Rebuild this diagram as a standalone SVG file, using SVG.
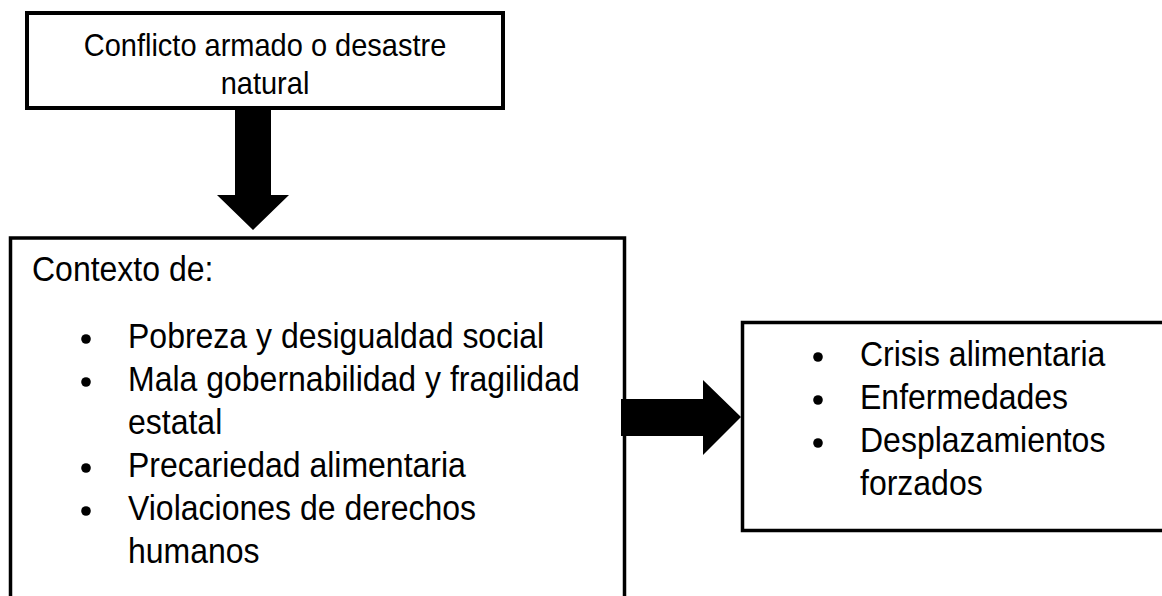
<svg xmlns="http://www.w3.org/2000/svg" width="1162" height="596" viewBox="0 0 1162 596">
<style>
.box{fill:#fff;stroke:#000}
.t{font-family:"Liberation Sans",Arial,sans-serif;fill:#000}
.t1{font-size:29px}
.t2{font-size:32px}
.arrow{fill:#000}
</style>
<rect width="1162" height="596" fill="#fff"/>
<g id="node-top">
<rect class="box" x="27" y="13" width="476" height="95" stroke-width="4"/>
<text class="t t1" transform="translate(265,56) scale(1,1.08)" text-anchor="middle">Conflicto armado o desastre</text>
<text class="t t1" transform="translate(265,94) scale(1,1.08)" text-anchor="middle">natural</text>
</g>
<g id="node-context">
<rect class="box" x="10.5" y="238" width="614" height="380" stroke-width="3.5"/>
<text class="t t2" transform="translate(32,281) scale(1,1.08)">Contexto de:</text>
<g class="arrow">
<circle cx="86" cy="339" r="4.8"/>
<circle cx="86" cy="382" r="4.8"/>
<circle cx="86" cy="468" r="4.8"/>
<circle cx="86" cy="511" r="4.8"/>
</g>
<text class="t t2" transform="translate(128,348) scale(1,1.08)">Pobreza y desigualdad social</text>
<text class="t t2" transform="translate(128,391) scale(1,1.08)">Mala gobernabilidad y fragilidad</text>
<text class="t t2" transform="translate(128,434) scale(1,1.08)">estatal</text>
<text class="t t2" transform="translate(128,477) scale(1,1.08)">Precariedad alimentaria</text>
<text class="t t2" transform="translate(128,520) scale(1,1.08)">Violaciones de derechos</text>
<text class="t t2" transform="translate(128,563) scale(1,1.08)">humanos</text>
</g>
<g id="node-effects">
<rect class="box" x="742.5" y="322.5" width="440" height="208" stroke-width="3.5"/>
<g class="arrow">
<circle cx="818" cy="357" r="4.8"/>
<circle cx="818" cy="400" r="4.8"/>
<circle cx="818" cy="443" r="4.8"/>
</g>
<text class="t t2" transform="translate(860,366) scale(1,1.08)">Crisis alimentaria</text>
<text class="t t2" transform="translate(860,409) scale(1,1.08)">Enfermedades</text>
<text class="t t2" transform="translate(860,452) scale(1,1.08)">Desplazamientos</text>
<text class="t t2" transform="translate(860,495) scale(1,1.08)">forzados</text>
</g>
<g id="connectors">
<polygon class="arrow" points="235,110 271,110 271,195 289,195 253,230 217,195 235,195"/>
<polygon class="arrow" points="621,399 703,399 703,380 741,417 703,455 703,436 621,436"/>
</g>
</svg>
